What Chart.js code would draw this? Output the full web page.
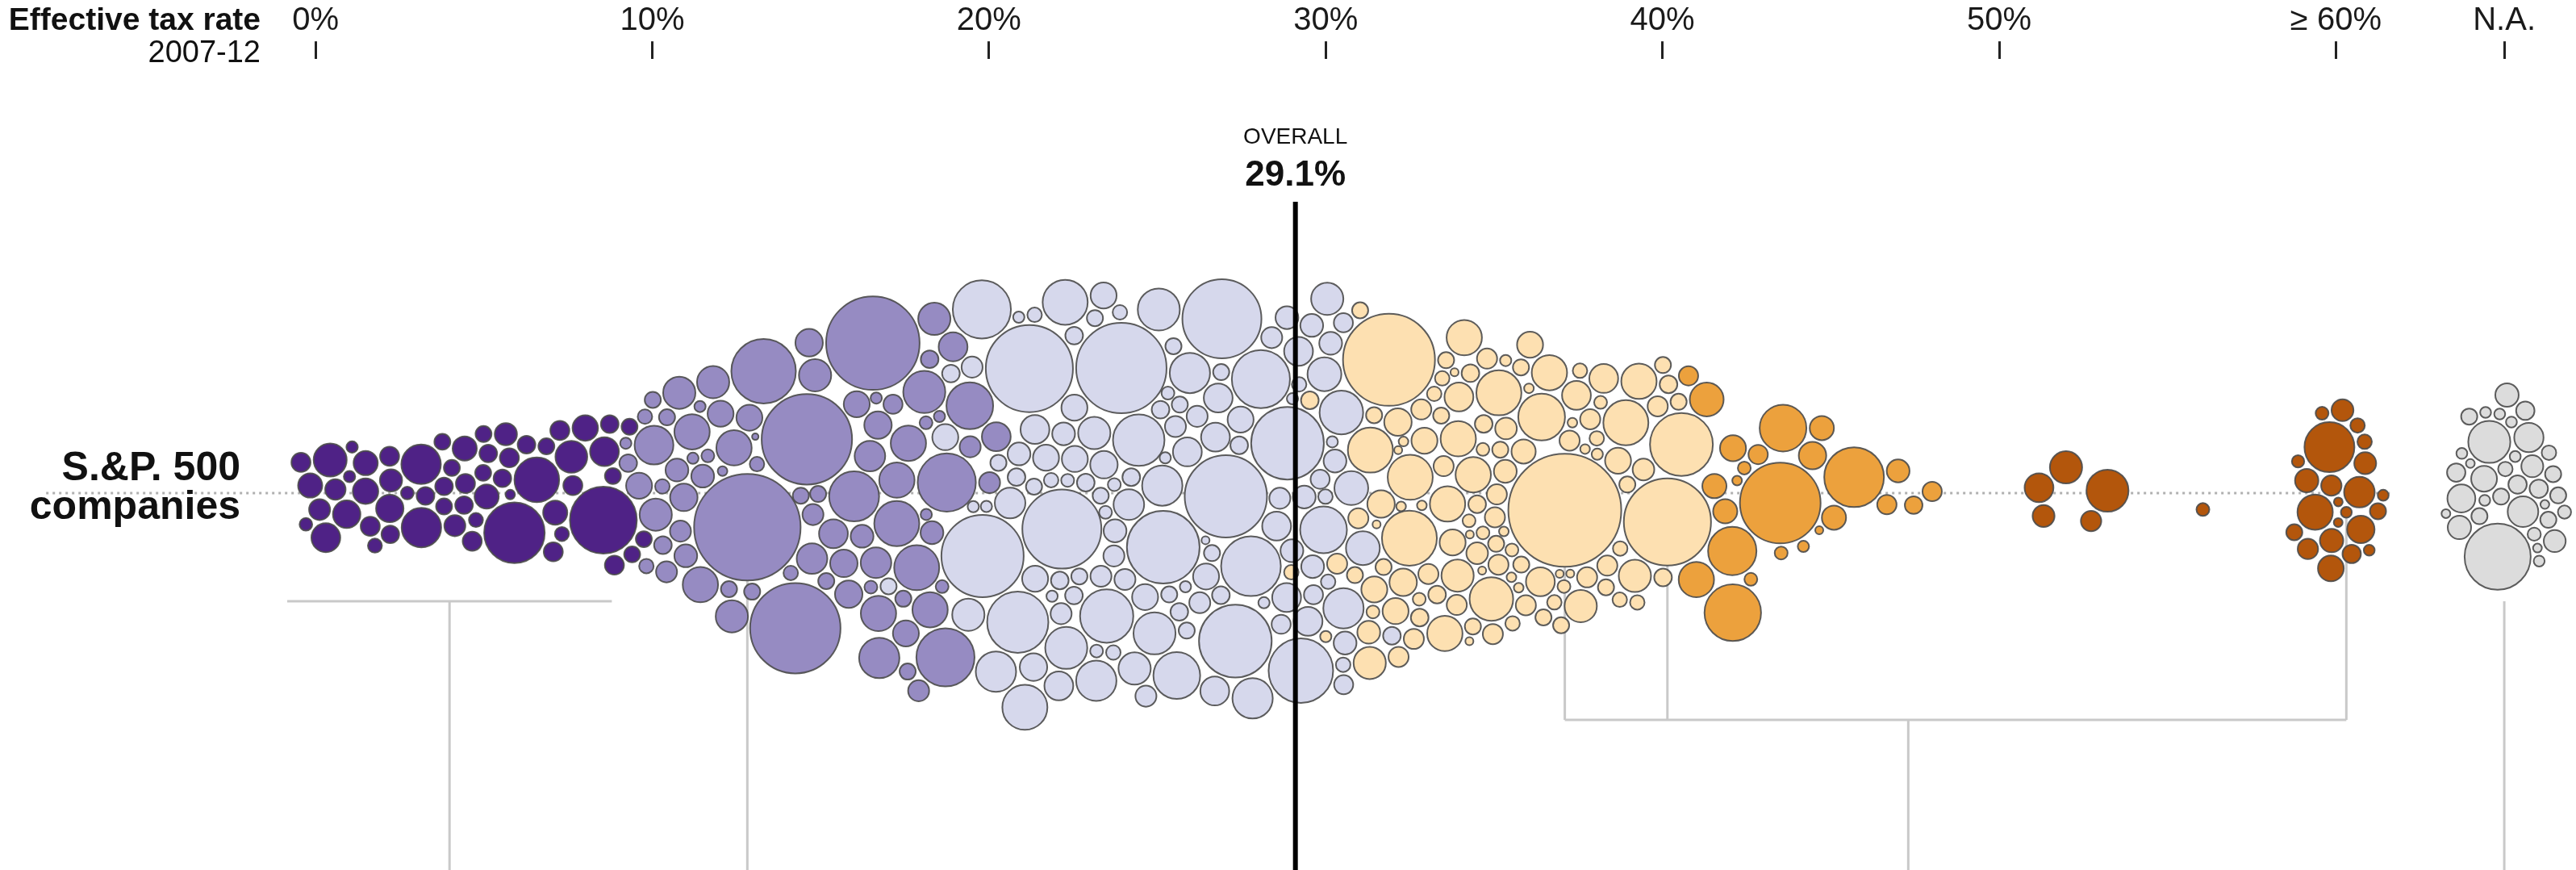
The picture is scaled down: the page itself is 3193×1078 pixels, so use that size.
<!DOCTYPE html>
<html><head><meta charset="utf-8">
<script src="https://cdn.jsdelivr.net/npm/chart.js@4.4.1/dist/chart.umd.min.js"></script>
<style>html,body{margin:0;padding:0;background:#fff;overflow:hidden}#wrap{width:3193px;height:1078px;position:relative}</style>
</head><body><div id="wrap"><canvas id="c"></canvas></div>
<script>
// ---------- DATA ----------
// Tick values on the rate axis and their labels ("N.A." companies are shown in their own column)
const tickValues = [0, 10, 20, 30, 40, 50, 60, 65];
const tickLabels = ['0%', '10%', '20%', '30%', '40%', '50%', '\u2265 60%', 'N.A.'];
const overallRate = 29.1;
const naColumn = 65;
const binNames = ['0-10%', '10-20%', '20-30%', '30-40%', '40-50%', '50-60%', '\u2265 60%', 'N.A.'];

// Each company: [effective tax rate %, taxes paid ($ billions, sets bubble area)]
const rate0to10 = [[0.37,4.2],[1.38,2.5],[0,2.25],[0,0.62],[1.05,0.5],[0.62,1.6],[0.48,3.2],[0,1.4],[0.06,1.7],[0.91,2.9],[1.1,0.5],[1.43,1.4],[1.47,2.25],[2.14,2.9],[2.09,1.2],[2.23,1.4],[1.9,0.76],[2.8,0.62],[2.85,1.9],[3.3,6.0],[3.18,6.0],[3.46,1.2],[3.6,1.2],[4.08,0.98],[4.12,0.98],[4.22,0.98],[4.17,1.4],[4.22,1.7],[4.69,2.25],[4.83,2.25],[4.93,1.2],[4.78,0.98],[4.88,1.4],[5.07,1.2],[5.4,1.2],[5.54,0.76],[5.73,1.9],[5.97,0.35],[6.01,1.4],[6.2,1.2],[6.11,14.1],[5.45,0.98],[6.91,7.7],[6.95,1.4],[7.48,0.98],[7.53,0.76],[7.45,1.4],[7.62,3.9],[7.0,2.25],[8.28,2.5],[8.76,17.2],[8.19,1.4],[8.52,1.2],[8.95,1.4],[8.33,3.2],[9.04,0.98],[9.42,0.98],[9.56,0.98],[9.61,0.98]];
const rate10to20 = [[10.0,1.2],[10.31,0.49],[10.26,0.81],[10.12,0.81],[10.17,1.2],[10.0,2.6],[10.41,1.0],[10.84,1.7],[11.03,5.8],[10.98,0.81],[10.5,4.0],[11.08,4.0],[11.17,2.0],[11.0,2.0],[11.7,1.0],[11.96,4.8],[11.5,0.49],[12.0,2.0],[11.6,2.9],[12.4,2.6],[12.44,1.7],[11.72,4.8],[12.15,4.8],[12.87,1.0],[12.78,0.16],[12.63,0.64],[12.73,0.49],[13.01,0.36],[13.3,4.0],[12.95,4.0],[13.56,0.81],[13.25,43.6],[16.34,33.6],[14.26,31.4],[15.22,31.4],[13.73,16.0],[18.59,13.0],[18.6,8.4],[19.11,7.8],[17.9,7.8],[17.51,6.8],[18.85,6.25],[18.3,4.8],[16.17,9.6],[16.91,4.8],[18.8,4.0],[19.64,13.0],[18.37,4.8],[19.9,3.2],[17.6,3.6],[16.56,3.6],[15.53,3.2],[14.83,2.9],[13.92,2.6],[14.57,1.0],[15.38,2.0],[15.74,1.0],[15.17,1.0],[16.2,4.0],[15.31,1.7],[15.0,1.0],[17.25,2.9],[17.13,2.6],[17.82,1.2],[19.55,1.7],[14.69,0.81],[16.12,2.9],[17.3,4.8],[18.16,1.0],[17.99,2.0],[15.96,3.6],[16.77,2.6],[16.6,0.49],[16.87,2.9],[17.5,0.64],[18.0,0.64],[17.34,1.4],[17.8,3.2],[18.68,1.7],[19.43,1.7],[19.07,0.64],[17.2,0.49],[19.4,0.49],[18.47,1.0]];
const rate20to30 = [[21.29,29.2],[23.01,1.0],[24.45,20.3],[26.22,6.8],[27.82,13.7],[29.16,1.7],[23.06,0.81],[20.0,1.0],[20.24,13.0],[22.85,1.7],[23.66,2.6],[24.67,0.64],[25.53,4.0],[26.65,3.2],[26.91,0.49],[27.34,0.25],[27.87,8.4],[28.95,3.2],[21.51,1.2],[22.11,1.0],[21.84,6.8],[22.97,3.2],[24.31,10.2],[23.06,3.2],[20.02,2.6],[20.98,6.25],[20.19,1.0],[21.79,0.49],[22.49,0.49],[23.06,1.2],[23.88,2.0],[24.67,0.64],[26.32,24.0],[28.68,16.0],[22.15,2.6],[23.97,0.64],[24.57,1.7],[25.19,1.0],[25.79,1.7],[26.65,1.7],[27.56,3.2],[28.3,1.2],[20.0,1.2],[20.02,26.0],[21.72,6.25],[23.18,7.8],[24.5,3.6],[25.19,1.2],[26.17,6.25],[27.92,20.3],[22.54,1.2],[23.18,1.0],[24.02,2.6],[24.93,3.2],[23.66,0.64],[21.79,2.0],[22.75,4.0],[24.23,0.64],[23.71,1.0],[23.4,1.2],[21.63,3.6],[20.0,0.49],[20.81,14.4],[22.54,6.8],[23.71,2.9],[24.88,10.9],[26.44,6.25],[27.44,2.6],[28.4,13.0],[26.44,26.0],[24.78,0.81],[22.2,2.6],[20.0,4.0],[21.63,2.6],[23.71,31.4],[20.72,7.8],[21.89,1.7],[25.41,1.2],[25.19,1.0],[25.74,0.49],[26.27,1.2],[26.96,1.7],[28.56,20.3],[25.89,1.7],[26.65,1.0],[24.83,1.7],[25.36,1.7],[26.32,2.6],[27.34,3.2],[28.18,1.2],[21.84,24.0],[23.49,1.7],[23.4,0.81],[24.45,8.4],[25.74,3.2],[26.91,1.0],[27.66,6.25],[28.88,3.2],[25.19,1.0],[28.47,1.0],[21.03,0.81],[21.63,2.9],[22.58,2.0],[23.4,2.6],[20.0,1.2],[20.0,0.49],[27.0,0.49],[29.2,2.0],[29.9,2.0],[29.8,1.4],[29.2,2.0],[29.9,1.4],[29.35,3.2],[29.95,1.4],[29.9,2.0],[29.26,7.3],[29.9,0.81],[29.86,0.49],[29.6,0.81],[29.95,6.25],[29.26,2.0],[29.8,4.4],[29.95,0.81],[29.26,2.0],[29.9,0.81],[29.8,1.4],[29.95,4.0],[29.9,1.4],[29.26,2.0],[29.65,2.0],[29.9,1.2],[29.9,0.49],[29.26,4.4],[29.8,4.4]];
const rate30to40 = [[31.05,7.8],[32.3,2.9],[33.01,1.56],[33.37,4.8],[30.41,0.49],[34.4,1.2],[34.95,0.64],[35.55,1.2],[31.58,0.25],[32.51,1.2],[34.21,0.64],[34.95,1.56],[35.6,0.36],[36.1,0.49],[37.13,4.0],[30.98,2.9],[31.96,2.9],[33.11,4.8],[33.97,1.0],[34.57,0.64],[35.12,0.25],[36.1,8.4],[37.18,0.81],[38.01,3.2],[38.78,0.49],[39.64,1.2],[30.62,1.2],[31.41,2.6],[32.08,0.25],[34.19,2.0],[34.9,0.81],[33.61,0.81],[32.56,11.6],[34.95,7.3],[36.32,4.8],[36.91,0.64],[37.51,0.36],[38.11,0.81],[38.97,4.0],[39.9,1.2],[30.6,2.0],[31.22,1.56],[33.83,1.0],[37.46,1.0],[37.99,0.64],[38.61,1.0],[39.31,0.81],[39.95,1.0],[37.34,1.56],[38.83,2.6],[39.69,1.56],[31.44,1.56],[33.88,3.2],[34.81,1.0],[35.41,1.0],[36.1,2.6],[36.91,1.0],[37.46,0.36],[38.01,1.56],[31.27,1.0],[32.08,2.6],[32.8,1.0],[32.73,0.36],[33.61,4.8],[34.47,1.0],[35.19,1.8],[36.79,0.36],[37.25,0.25],[37.85,0.81],[38.59,1.56],[39.95,15.2],[31.44,1.56],[32.18,1.56],[32.78,0.81],[34.59,1.8],[35.19,0.36],[35.77,1.0],[36.44,1.0],[37.13,1.56],[38.23,7.8],[30.62,2.6],[31.36,1.0],[32.99,1.56],[33.8,2.6],[34.47,1.2],[34.19,0.25],[35.0,0.36],[35.67,1.56],[36.22,0.25],[37.01,3.2],[30.29,0.81],[31.15,0.36],[32.13,7.8],[33.23,1.2],[34.35,1.56],[35.33,3.2],[36.05,0.64],[39.31,4.8],[38.37,0.81],[39.9,1.0],[36.91,49.0],[39.9,29.2],[33.8,4.8],[32.85,0.64],[34.81,1.56],[31.41,1.0],[30.62,4.0],[32.03,1.56],[32.94,4.0],[31.41,0.64],[34.14,0.25],[34.81,1.56],[33.88,4.8],[34.86,1.0],[38.78,0.81],[31.6,32.5],[33.4,1.56],[33.11,0.36],[34.47,7.8],[35.33,1.56],[35.93,2.25],[34.69,0.25],[39.9,1.8]];
const rate40to50 = [[40.57,1.44],[41.77,9.0],[42.85,0.64],[43.47,1.44],[44.04,0.49],[40.65,4.4],[41.56,2.25],[43.35,25.0],[45.62,13.7],[41.65,4.8],[42.56,2.6],[44.55,2.25],[44.59,0.25],[46.79,2.0],[47.46,1.2],[48.01,1.44],[46.51,1.44],[41.53,12.3],[43.64,8.4],[42.8,2.25],[43.52,0.64],[44.55,2.25],[42.2,0.64],[42.68,0.36],[44.04,2.9]];
const rate50to60 = [[51.3,1.85],[51.9,4.0],[52.8,1.6],[53.2,6.8],[51.3,3.2],[56.05,0.64]];
const rate60plus = [[60,2.1],[60,0.46],[60,2.1],[60,0.81],[60,0.46],[60,0.3],[60,1.6],[60,1.6],[60,1.85],[60,1.0],[60,0.3],[60,0.81],[60,1.3],[60,0.59],[60,3.6],[60,1.0],[60,0.64],[60,2.9],[60,4.8],[60,1.85],[60,2.56],[60,9.6],[60,0.46]];
const rateNA = [0.3,0.46,1.0,0.46,0.81,1.85,2.1,1.0,3.0,3.3,0.3,2.56,1.3,1.0,0.46,3.6,1.0,0.81,16.8,0.46,0.3,0.46,1.3,0.67,0.3,1.85,2.1,1.0,0.67,1.3,0.46,0.46,6.8,1.3,1.0];

// ---------- STYLE ----------
const FONT = '"Liberation Sans", Arial, Helvetica, sans-serif';
const binColors = ['#4f2286', '#968bc2', '#d6d8ec', '#fde0b1', '#eca13d', '#b3560c', '#b3560c', '#dcdcdc'];
const W = 3193, H = 1078, CENTER_Y = 611;
const radiusOf = tax => 10 * Math.sqrt(tax);

const bins = [rate0to10, rate10to20, rate20to30, rate30to40, rate40to50, rate50to60, rate60plus,
  rateNA.map(t => [naColumn, t])];
const categoricalBins = [6, 7]; // capped / missing rates: only loosely tied to their column

const datasets = bins.map((bin, i) => ({
  label: binNames[i],
  data: bin.map(([rate, tax]) => ({ x: rate, y: 0, r: radiusOf(tax), rate, tax })),
  backgroundColor: binColors[i],
  borderColor: 'rgba(75,75,75,0.9)',
  borderWidth: 2,
  hoverRadius: 0
}));

// Annotated companies (for the leader lines)
const idxBigPurple = rate10to20.findIndex(d => d[1] === 43.6);
const idxPeachA = rate30to40.findIndex(d => d[1] === 49.0);
const idxPeachB = rate30to40.findIndex(d => d[1] === 29.2);
const idx60 = rate60plus.length - 1;

function drawLine(ctx, x1, y1, x2, y2) { ctx.beginPath(); ctx.moveTo(x1, y1); ctx.lineTo(x2, y2); ctx.stroke(); }

const decor = {
  id: 'decor',
  beforeDatasetsDraw(chart) {
    const { ctx, scales: { x, y } } = chart;
    const cy = y.getPixelForValue(0);
    ctx.save();
    ctx.strokeStyle = '#b0b0b0'; ctx.lineWidth = 3; ctx.setLineDash([3, 5]);
    drawLine(ctx, x.getPixelForValue(-8.0), cy, x.getPixelForValue(61.6), cy);
    ctx.setLineDash([]);
    ctx.strokeStyle = '#c9c9c9'; ctx.lineWidth = 3;
    const el = (d, i) => chart.getDatasetMeta(d).data[i];
    const by = 745;
    drawLine(ctx, x.getPixelForValue(-0.84), by, x.getPixelForValue(8.8), by);
    drawLine(ctx, x.getPixelForValue(3.98), by, x.getPixelForValue(3.98), H);
    const bp = el(1, idxBigPurple);
    drawLine(ctx, bp.x, bp.y, bp.x, H);
    const hy = 892;
    const pa = el(3, idxPeachA), pb = el(3, idxPeachB), p6 = el(6, idx60);
    drawLine(ctx, pa.x, Math.min(pa.y, hy), pa.x, hy);
    drawLine(ctx, pb.x, Math.min(pb.y, hy), pb.x, hy);
    drawLine(ctx, p6.x, Math.min(p6.y, hy), p6.x, hy);
    drawLine(ctx, pa.x, hy, p6.x, hy);
    drawLine(ctx, x.getPixelForValue(47.3), hy, x.getPixelForValue(47.3), H);
    drawLine(ctx, x.getPixelForValue(naColumn), 745, x.getPixelForValue(naColumn), H);
    ctx.restore();
  },
  afterDatasetsDraw(chart) {
    const { ctx, scales: { x } } = chart;
    ctx.save();
    const ox = x.getPixelForValue(overallRate);
    ctx.strokeStyle = '#000'; ctx.lineWidth = 6;
    drawLine(ctx, ox, 250, ox, H);
    ctx.fillStyle = '#111'; ctx.textAlign = 'center'; ctx.textBaseline = 'alphabetic';
    ctx.font = '28px ' + FONT; ctx.fillText('OVERALL', ox, 178);
    ctx.font = 'bold 44px ' + FONT; ctx.fillText(overallRate.toFixed(1) + '%', ox, 230);
    ctx.textAlign = 'right';
    ctx.font = 'bold 39px ' + FONT; ctx.fillText('Effective tax rate', 323, 37);
    ctx.font = '38px ' + FONT; ctx.fillText('2007-12', 323, 77);
    ctx.font = 'bold 50px ' + FONT;
    ctx.fillText('S.&P. 500', 298, 595);
    ctx.fillText('companies', 298, 643);
    ctx.restore();
  }
};

// ---------- BEESWARM LAYOUT (force-style packing around the centre line) ----------
function layout(nodes) {
  const PAD = 4;
  // seed: x at the company's rate, y on a sunflower spiral in data order (as d3-force does)
  const GOLDEN = Math.PI * (3 - Math.sqrt(5));
  nodes.forEach((n, i) => {
    const rad = 10 * Math.sqrt(0.5 + i);
    n.x = n.tx + 0.02 * rad * Math.cos(i * GOLDEN);
    n.y = 0.6 * rad * Math.sin(i * GOLDEN);
  });
  const maxR = Math.max(...nodes.map(n => n.r));
  const collide = () => {
    const arr = nodes.slice().sort((a, b) => a.x - b.x);
    for (let i = 0; i < arr.length; i++) {
      const a = arr[i];
      for (let j = i + 1; j < arr.length; j++) {
        const b = arr[j];
        if (b.x - a.x > a.r + maxR + PAD) break;
        const dx = b.x - a.x, dy = b.y - a.y, s = a.r + b.r + PAD;
        const d2 = dx * dx + dy * dy;
        if (d2 < s * s) {
          let d = Math.sqrt(d2), ux, uy;
          if (d < 1e-6) { ux = 0; uy = 1; d = 0; } else { ux = dx / d; uy = dy / d; }
          const o = s - d;
          const wa = (b.r * b.r) / (a.r * a.r + b.r * b.r), wb = 1 - wa;
          a.x -= ux * o * wa; a.y -= uy * o * wa;
          b.x += ux * o * wb; b.y += uy * o * wb;
        }
      }
    }
  };
  const ITER = 400, KY = 0.009;
  for (let it = 0; it < ITER; it++) {
    const a = 1 - it / ITER;
    for (const n of nodes) { n.x += (n.tx - n.x) * n.kx * a; n.y += -n.y * KY * a; }
    collide(); collide();
  }
  for (let k = 0; k < 8; k++) collide();
}

// ---------- CHART ----------
const chart = new Chart(document.getElementById('c'), {
  type: 'bubble',
  data: { datasets },
  options: {
    responsive: true, maintainAspectRatio: false, animation: false, events: [],
    layout: { padding: 0, autoPadding: false },
    clip: false,
    plugins: { legend: { display: false }, tooltip: { enabled: false }, title: { display: false } },
    scales: {
      x: {
        type: 'linear', position: 'top', min: -9.37, max: 67.13,
        afterBuildTicks: s => { s.ticks = tickValues.map(v => ({ value: v })); },
        afterFit: s => { s.paddingLeft = 0; s.paddingRight = 0; },
        ticks: {
          callback: (v, i) => tickLabels[i],
          font: { family: FONT, size: 40, lineHeight: 1.13 }, color: '#1a1a1a',
          padding: 3, maxRotation: 0, autoSkip: false
        },
        grid: { display: true, drawOnChartArea: false, drawTicks: true, tickLength: 22, tickWidth: 3, tickColor: '#222' },
        border: { display: false }
      },
      y: { type: 'linear', display: false, min: -467, max: 541 }
    }
  },
  plugins: [decor]
});

// map value 0 on the y-scale to the centre line, 1 unit = 1 px
const area = chart.chartArea;
chart.options.scales.y.max = CENTER_Y - area.top;
chart.options.scales.y.min = -(area.bottom - CENTER_Y);
chart.update('none');

const xs = chart.scales.x, ys = chart.scales.y;
const nodes = [];
chart.data.datasets.forEach((ds, di) => ds.data.forEach(p => nodes.push({
  p, tx: xs.getPixelForValue(p.rate), r: p.r, x: 0, y: 0,
  kx: categoricalBins.includes(di) ? 0.02 : 0.05
})));
layout(nodes);
const cyPix = ys.getPixelForValue(0);
nodes.forEach(n => { n.p.x = xs.getValueForPixel(n.x); n.p.y = ys.getValueForPixel(cyPix + n.y); });
chart.update('none');
</script></body></html>
